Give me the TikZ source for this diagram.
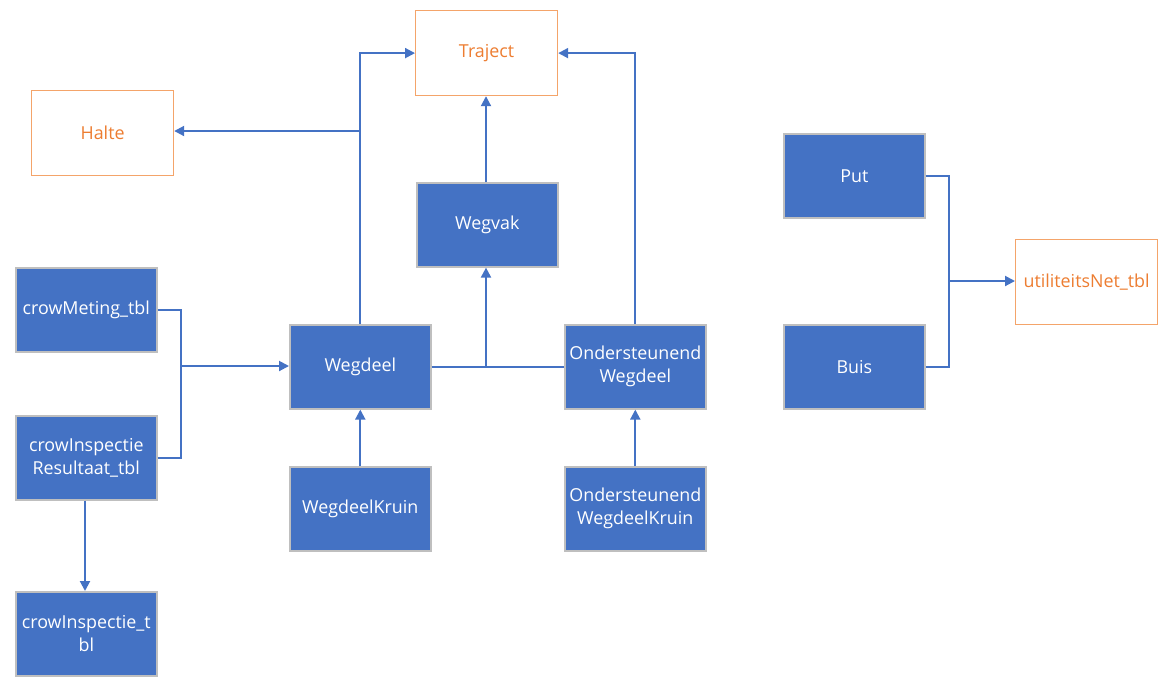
\documentclass[tikz,border=0pt]{standalone}
\usepackage{fontspec}
\setmainfont{Open Sans}
\usetikzlibrary{arrows.meta}
\definecolor{bluefill}{HTML}{4472C4}
\definecolor{grayedge}{HTML}{BFBFBF}
\definecolor{orangetext}{HTML}{ED7D31}
\definecolor{orangeedge}{HTML}{F4A46A}
\begin{document}
\begin{tikzpicture}[x=0.75pt,y=-0.75pt,
  bluebox/.style={draw=grayedge,line width=1.2pt,fill=bluefill,text=white,minimum width=141*0.75pt,minimum height=84*0.75pt,inner sep=0pt,align=center,font=\fontsize{13.4}{17.2}\selectfont,anchor=north west},
  orangebox/.style={draw=orangeedge,line width=0.9pt,fill=white,text=orangetext,minimum width=142*0.75pt,minimum height=85*0.75pt,inner sep=0pt,align=center,font=\fontsize{13.4}{17.2}\selectfont,anchor=north west},
  conn/.style={draw=bluefill,line width=1.5pt},
  arr/.style={conn,-{Triangle[length=7.5pt,width=7.5pt]}}]
\useasboundingbox (0,0) rectangle (1170,687);
\node[orangebox] (traject) at (415,10) {Traject};
\node[orangebox] (halte) at (31,90) {Halte};
\node[bluebox] (wegvak) at (416,182) {Wegvak};
\node[bluebox] (put) at (783,133) {Put};
\node[orangebox] (util) at (1015,239) {utiliteitsNet\_tbl};
\node[bluebox] (buis) at (783,324) {Buis};
\node[bluebox] (meting) at (15,267) {crowMeting\_tbl};
\node[bluebox] (wegdeel) at (289,324) {Wegdeel};
\node[bluebox] (owd) at (564,324) {Ondersteunend\\Wegdeel};
\node[bluebox] (insres) at (15,415) {crowInspectie\\Resultaat\_tbl};
\node[bluebox] (kruin) at (289,466) {WegdeelKruin};
\node[bluebox] (owk) at (564,466) {Ondersteunend\\WegdeelKruin};
\node[bluebox] (insp) at (15,591) {crowInspectie\_t\\bl};
\coordinate (j1) at (181,366);
\coordinate (j2) at (359,131);
\coordinate (j3) at (486,366);
\coordinate (j4) at (949,281);
% left group
\draw[conn] (meting.east) -| (j1);
\draw[conn] (insres.east) -| (j1);
\draw[arr] (j1) -- (j1 -| wegdeel.west);
\draw[arr] (insres.south -| 85,0) -- (insp.north -| 85,0);
% wegdeel up
\draw[arr] (wegdeel.north) |- (traject.west);
\draw[arr] (j2) -- (j2 -| halte.east);
% wegdeel to owd
\draw[conn] (wegdeel.east) -- (owd.west);
\draw[arr] (j3) -- (wegvak.south -| j3);
\draw[arr] (wegvak.north -| j3) -- (traject.south -| j3);
\draw[arr] (owd.north) |- (traject.east);
\draw[arr] (kruin.north) -- (wegdeel.south);
\draw[arr] (owk.north) -- (owd.south);
% right group
\draw[conn] (put.east) -| (j4);
\draw[conn] (buis.east) -| (j4);
\draw[arr] (j4) -- (j4 -| util.west);
\end{tikzpicture}
\end{document}
